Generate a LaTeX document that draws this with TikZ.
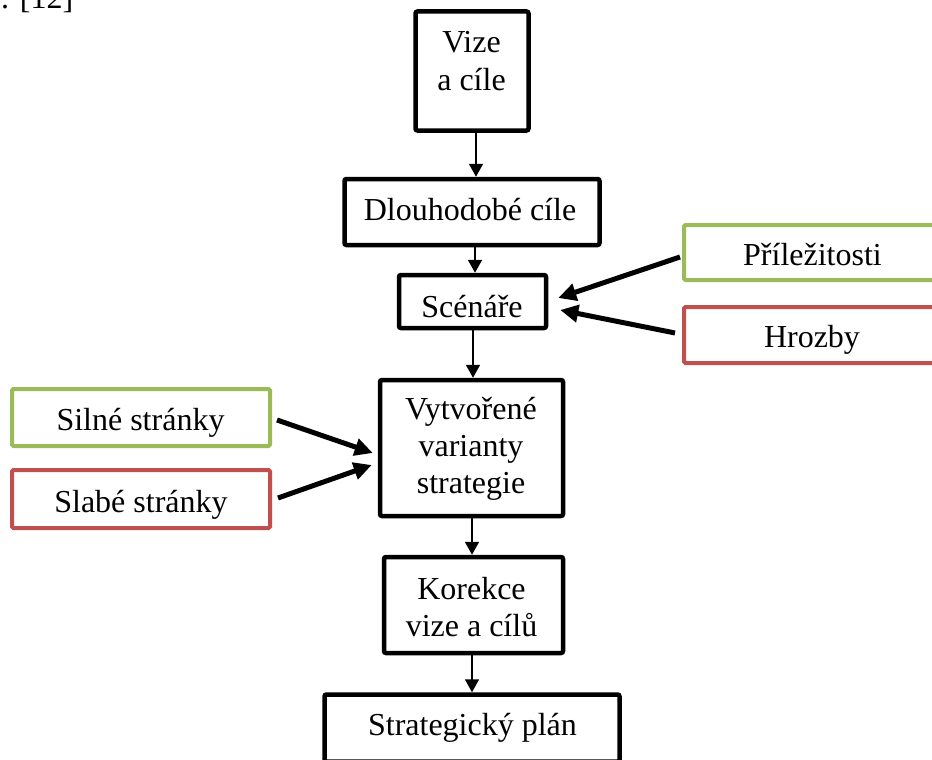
\documentclass[tikz,border=0pt]{standalone}
\usepackage{fontspec}
\setmainfont{Liberation Serif}
\usetikzlibrary{arrows.meta}
\definecolor{okgreen}{HTML}{9BBB59}
\definecolor{badred}{HTML}{C0504D}
\begin{document}
\begin{tikzpicture}[x=1pt,y=-1pt,
  mainbox/.style={draw=black, line width=4.5pt, rounded corners=2pt, inner sep=0pt},
  greenbox/.style={draw=okgreen, line width=4pt, rounded corners=1.5pt, inner sep=0pt},
  redbox/.style={draw=badred, line width=4pt, rounded corners=1.5pt, inner sep=0pt},
  boxtext/.style={anchor=base, inner sep=0pt, font=\fontsize{32}{37}\selectfont},
  flow/.style={-{Triangle[length=13pt,width=14pt]}, line width=1.8pt},
  push/.style={-{Triangle[length=18pt,width=17pt]}, line width=5pt}
]
\useasboundingbox (0,0) rectangle (932,760);

% citation tail of the preceding line
\node[anchor=base west, inner sep=0pt, font=\fontsize{32}{37}\selectfont] (cite) at (1,9) {. [12]};

% main chain of boxes
\node[mainbox, minimum width=113pt, minimum height=119pt] (vize) at (472,71) {};
\node[mainbox, minimum width=255pt, minimum height=66pt] (dlouho) at (472,212) {};
\node[mainbox, minimum width=147pt, minimum height=53pt] (scen) at (472.5,301.5) {};
\node[mainbox, minimum width=183pt, minimum height=136pt] (vytv) at (471.5,448) {};
\node[mainbox, minimum width=179pt, minimum height=96pt] (korekce) at (473.5,605) {};
\node[mainbox, minimum width=295pt, minimum height=67pt] (strat) at (472,728) {};

\node[boxtext] (vizeT) at (471.5,53) {\begin{tabular}[t]{@{}c@{}}Vize\\a cíle\end{tabular}};
\node[boxtext] (dlouhoT) at (470,220) {Dlouhodobé cíle};
\node[boxtext] (scenT) at (472,317) {Scénáře};
\node[boxtext] (vytvT) at (471,419) {\begin{tabular}[t]{@{}c@{}}Vytvořené\\varianty\\strategie\end{tabular}};
\node[boxtext] (korekceT) at (471.5,599) {\begin{tabular}[t]{@{}c@{}}Korekce\\vize a cílů\end{tabular}};
\node[boxtext] (stratT) at (472.5,735) {Strategický plán};

% external factors
\node[greenbox, minimum width=256pt, minimum height=55pt] (prilez) at (812,252.5) {};
\node[redbox, minimum width=256pt, minimum height=56pt] (hrozby) at (812,335) {};
\node[greenbox, minimum width=258pt, minimum height=57pt] (silne) at (141,417.5) {};
\node[redbox, minimum width=258pt, minimum height=58pt] (slabe) at (141,499) {};

\node[boxtext] (prilezT) at (812.5,265) {Příležitosti};
\node[boxtext] (hrozbyT) at (812,347) {Hrozby};
\node[boxtext] (silneT) at (140.5,430) {Silné stránky};
\node[boxtext] (slabeT) at (141,512) {Slabé stránky};

% flow between the main steps
\draw[flow] (vize.south -| 476,0) -- (dlouho.north -| 476,0);
\draw[flow] (dlouho.south -| 475,0) -- (scen.north -| 475,0);
\draw[flow] (scen.south -| 473,0) -- (vytv.north -| 473,0);
\draw[flow] (vytv.south -| 472,0) -- (korekce.north -| 472,0);
\draw[flow] (korekce.south -| 472,0) -- (strat.north -| 472,0);

% inputs from the analysis
\draw[push] ([shift={(-2,4.5)}]prilez.west) -- ([shift={(10,-3.5)}]scen.east);
\draw[push] ([shift={(-7,-2)}]hrozby.west) -- ([shift={(12,8.5)}]scen.east);
\draw[push] ([shift={(5,2.5)}]silne.east) -- ([shift={(-5,5)}]vytv.west);
\draw[push] ([shift={(6,-1)}]slabe.east) -- ([shift={(-6,17)}]vytv.west);
\end{tikzpicture}
\end{document}
